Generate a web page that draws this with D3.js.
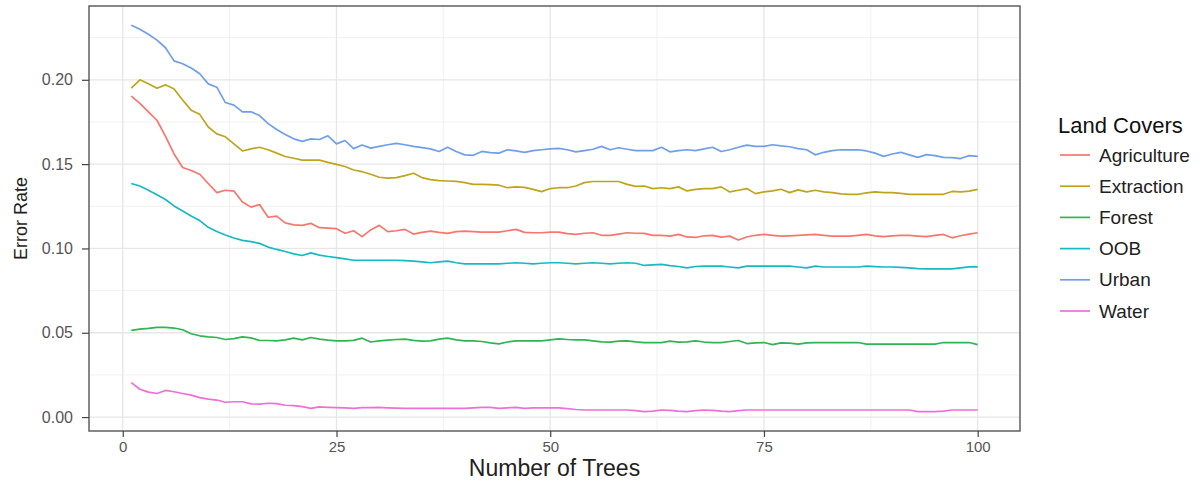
<!DOCTYPE html>
<html>
<head>
<meta charset="utf-8">
<script src="https://cdn.jsdelivr.net/npm/d3@7"></script>
<style>
  body { margin: 0; background: #fff; }
  svg { font-family: "Liberation Sans", Arial, sans-serif; }
</style>
</head>
<body>
<div id="chart"></div>
<script>
// error rate per number of trees (1..100)
var landCovers = ["Agriculture", "Extraction", "Forest", "OOB", "Urban", "Water"];
var colors = ["#F8766D", "#BFA51C", "#2FB552", "#19B8C2", "#6F9FEA", "#EE6FD7"];

var agriculture = [.1903,.1860,.1810,.1760,.1665,.1560,.1480,.1462,.1440,.1385,
  .1331,.1345,.1340,.1275,.1245,.1260,.1185,.1192,.1152,.1140,
  .1137,.1149,.1123,.1120,.1117,.1090,.1105,.1070,.1110,.1137,
  .1100,.1105,.1113,.1085,.1095,.1103,.1095,.1089,.1100,.1103,
  .1100,.1097,.1097,.1097,.1105,.1113,.1095,.1093,.1093,.1097,
  .1097,.1088,.1083,.1090,.1093,.1078,.1077,.1085,.1093,.1090,
  .1089,.1077,.1077,.1073,.1083,.1068,.1065,.1075,.1077,.1067,
  .1073,.1050,.1068,.1078,.1083,.1078,.1073,.1075,.1077,.1080,
  .1083,.1078,.1073,.1073,.1073,.1078,.1083,.1075,.1070,.1075,
  .1077,.1077,.1073,.1070,.1077,.1083,.1063,.1075,.1085,.1093];

var extraction = [.1950,.2000,.1976,.1950,.1970,.1946,.1880,.1820,.1795,.1720,
  .1679,.1662,.1620,.1578,.1590,.1600,.1585,.1565,.1545,.1535,
  .1524,.1524,.1524,.1510,.1498,.1486,.1465,.1455,.1440,.1422,
  .1417,.1420,.1432,.1446,.1420,.1408,.1402,.1400,.1398,.1390,
  .1380,.1380,.1378,.1375,.1360,.1365,.1362,.1350,.1337,.1355,
  .1360,.1360,.1370,.1390,.1397,.1397,.1397,.1397,.1380,.1368,
  .1370,.1355,.1360,.1355,.1365,.1341,.1350,.1355,.1355,.1365,
  .1335,.1345,.1355,.1325,.1335,.1341,.1351,.1331,.1347,.1335,
  .1345,.1335,.1331,.1323,.1321,.1321,.1330,.1335,.1331,.1331,
  .1326,.1321,.1321,.1321,.1321,.1321,.1338,.1335,.1340,.1350];

var forest = [.0514,.0522,.0526,.0532,.0532,.0528,.0518,.0494,.0482,.0476,
  .0472,.0460,.0465,.0476,.0470,.0454,.0454,.0452,.0458,.0468,
  .0458,.0472,.0462,.0456,.0452,.0452,.0455,.0468,.0445,.0452,
  .0456,.0460,.0462,.0455,.0450,.0452,.0462,.0468,.0458,.0452,
  .0452,.0448,.0440,.0434,.0445,.0452,.0452,.0452,.0452,.0458,
  .0464,.0460,.0458,.0458,.0452,.0446,.0444,.0450,.0452,.0446,
  .0442,.0442,.0442,.0450,.0444,.0446,.0452,.0445,.0442,.0442,
  .0448,.0454,.0436,.0440,.0442,.0430,.0440,.0438,.0433,.0440,
  .0442,.0442,.0442,.0442,.0442,.0442,.0433,.0432,.0432,.0432,
  .0432,.0432,.0432,.0432,.0433,.0442,.0442,.0442,.0442,.0430];

var oob = [.1385,.1370,.1345,.1318,.1290,.1252,.1222,.1192,.1165,.1125,
  .1100,.1080,.1062,.1048,.1040,.1030,.1008,.0994,.0982,.0968,
  .0958,.0974,.0960,.0952,.0945,.0938,.0930,.0930,.0930,.0930,
  .0930,.0930,.0928,.0925,.0920,.0915,.0920,.0925,.0915,.0909,
  .0909,.0909,.0909,.0909,.0912,.0915,.0912,.0909,.0912,.0915,
  .0915,.0912,.0909,.0912,.0915,.0912,.0909,.0912,.0915,.0912,
  .0899,.0902,.0905,.0898,.0893,.0885,.0893,.0895,.0895,.0895,
  .0890,.0885,.0895,.0895,.0895,.0895,.0895,.0895,.0890,.0885,
  .0895,.0890,.0890,.0890,.0890,.0890,.0895,.0892,.0890,.0890,
  .0888,.0885,.0880,.0879,.0879,.0879,.0879,.0885,.0891,.0891];

var urban = [.2323,.2300,.2270,.2235,.2190,.2112,.2095,.2070,.2036,.1976,
  .1956,.1865,.1850,.1810,.1810,.1788,.1740,.1705,.1675,.1650,
  .1635,.1650,.1646,.1668,.1620,.1640,.1592,.1613,.1595,.1605,
  .1615,.1623,.1615,.1605,.1598,.1590,.1575,.1600,.1575,.1555,
  .1552,.1575,.1568,.1565,.1585,.1578,.1570,.1580,.1585,.1590,
  .1593,.1585,.1573,.1580,.1588,.1605,.1585,.1597,.1588,.1580,
  .1580,.1580,.1600,.1573,.1580,.1585,.1580,.1590,.1600,.1575,
  .1585,.1600,.1613,.1605,.1605,.1615,.1608,.1603,.1592,.1585,
  .1555,.1570,.1580,.1585,.1585,.1585,.1578,.1565,.1546,.1560,
  .1570,.1555,.1540,.1556,.1550,.1540,.1538,.1533,.1550,.1546];

var water = [.0204,.0165,.0148,.0140,.0158,.0150,.0140,.0130,.0115,.0106,
  .0101,.0088,.0091,.0091,.0078,.0077,.0082,.0080,.0070,.0068,
  .0062,.0052,.0060,.0058,.0056,.0054,.0052,.0056,.0056,.0057,
  .0055,.0053,.0052,.0052,.0052,.0052,.0052,.0052,.0052,.0052,
  .0055,.0058,.0058,.0052,.0055,.0058,.0052,.0055,.0055,.0055,
  .0055,.0050,.0045,.0042,.0042,.0042,.0042,.0042,.0042,.0038,
  .0032,.0035,.0042,.0040,.0035,.0032,.0038,.0042,.0040,.0035,
  .0032,.0038,.0042,.0042,.0042,.0042,.0042,.0042,.0042,.0042,
  .0042,.0042,.0042,.0042,.0042,.0042,.0042,.0042,.0042,.0042,
  .0042,.0042,.0032,.0032,.0032,.0035,.0042,.0042,.0042,.0042];

var xTicks = [0, 25, 50, 75, 100];
var yTicks = [0, 0.05, 0.10, 0.15, 0.20];

var series = [agriculture, extraction, forest, oob, urban, water];

var width = 1200, height = 484;
var margin = { top: 6, right: 180, bottom: 53, left: 89 };
var w = width - margin.left - margin.right,
    h = height - margin.top - margin.bottom;

// ggplot style 5% expansion
var allY = d3.merge(series);
var yMin = d3.min(allY), yMax = d3.max(allY);
var yPad = (yMax - yMin) * 0.05;
var xPad = (100 - 1) * 0.05;

var x = d3.scaleLinear().domain([1 - xPad, 100 + xPad]).range([0, w]);
var y = d3.scaleLinear().domain([yMin - yPad, yMax + yPad]).range([h, 0]);

var svg = d3.select("#chart").append("svg")
    .attr("width", width)
    .attr("height", height);

var g = svg.append("g")
    .attr("transform", "translate(" + margin.left + "," + margin.top + ")");

// minor grid
var xMinor = [12.5, 37.5, 62.5, 87.5];
var yMinor = [0.025, 0.075, 0.125, 0.175, 0.225];
g.selectAll(".xminor").data(xMinor).enter().append("line")
    .attr("x1", d => x(d)).attr("x2", d => x(d))
    .attr("y1", 0).attr("y2", h)
    .attr("stroke", "#EEEEEE").attr("stroke-width", 0.8);
g.selectAll(".yminor").data(yMinor).enter().append("line")
    .attr("x1", 0).attr("x2", w)
    .attr("y1", d => y(d)).attr("y2", d => y(d))
    .attr("stroke", "#EEEEEE").attr("stroke-width", 0.8);

// major grid
g.selectAll(".xgrid").data(xTicks).enter().append("line")
    .attr("x1", d => x(d)).attr("x2", d => x(d))
    .attr("y1", 0).attr("y2", h)
    .attr("stroke", "#E6E6E6").attr("stroke-width", 1.3);
g.selectAll(".ygrid").data(yTicks).enter().append("line")
    .attr("x1", 0).attr("x2", w)
    .attr("y1", d => y(d)).attr("y2", d => y(d))
    .attr("stroke", "#E6E6E6").attr("stroke-width", 1.3);

// lines
var line = d3.line()
    .x(function(d, i) { return x(i + 1); })
    .y(function(d) { return y(d); });

g.selectAll(".series").data(series).enter().append("path")
    .attr("d", line)
    .attr("fill", "none")
    .attr("stroke", (d, i) => colors[i])
    .attr("stroke-width", 1.7)
    .attr("stroke-linejoin", "round");

// panel border
g.append("rect")
    .attr("width", w)
    .attr("height", h)
    .attr("fill", "none")
    .attr("stroke", "#555")
    .attr("stroke-width", 1.4);

// axes
var xAxis = d3.axisBottom(x).tickValues(xTicks).tickSize(6).tickPadding(4)
    .tickFormat(d3.format("d"));
var yAxis = d3.axisLeft(y).tickValues(yTicks).tickSize(7).tickPadding(9)
    .tickFormat(d3.format(".2f"));

var gx = g.append("g")
    .attr("transform", "translate(0," + h + ")")
    .call(xAxis);
var gy = g.append("g").call(yAxis);

[gx, gy].forEach(function(a) {
    a.select(".domain").remove();
    a.selectAll("line").attr("stroke", "#444").attr("stroke-width", 1.2);
    a.selectAll("text")
        .style("font-family", "Liberation Sans, Arial, sans-serif")
        .attr("fill", "#555");
});
gx.selectAll("text").style("font-size", "15px");
gy.selectAll("text").style("font-size", "16px");

// axis titles
g.append("text")
    .attr("x", w / 2)
    .attr("y", h + 45)
    .attr("text-anchor", "middle")
    .style("font-size", "23px")
    .attr("fill", "#222")
    .text("Number of Trees");

g.append("text")
    .attr("transform", "rotate(-90)")
    .attr("x", -h / 2)
    .attr("y", -margin.left + 27)
    .attr("text-anchor", "middle")
    .style("font-size", "18px")
    .attr("fill", "#222")
    .text("Error Rate");

// legend
var legend = svg.append("g").attr("transform", "translate(1058,0)");
legend.append("text")
    .attr("x", 0)
    .attr("y", 125)
    .attr("dy", "0.35em")
    .style("font-size", "22px")
    .attr("fill", "#111")
    .text("Land Covers");

var rows = legend.selectAll(".row").data(landCovers).enter().append("g")
    .attr("transform", (d, i) => "translate(0," + (155 + i * 31.2) + ")");
rows.append("line")
    .attr("x1", 2).attr("x2", 32)
    .attr("stroke", (d, i) => colors[i])
    .attr("stroke-width", 1.7);
rows.append("text")
    .attr("x", 41)
    .attr("dy", "0.35em")
    .style("font-size", "19px")
    .attr("fill", "#222")
    .text(d => d);
</script>
</body>
</html>
